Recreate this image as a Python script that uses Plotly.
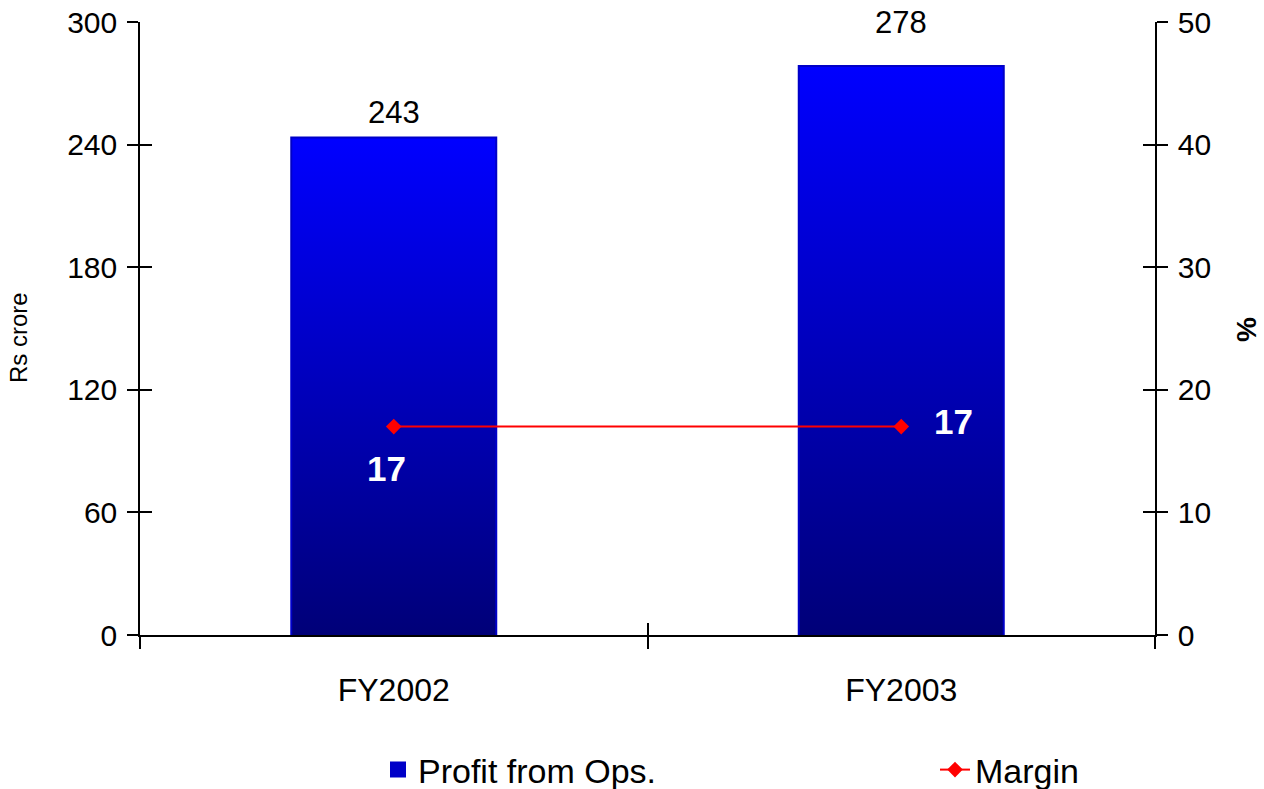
import plotly.graph_objects as go

categories = ["FY2002", "FY2003"]
profit = [243, 278]
margin = [17, 17]
left_ticks = [0, 60, 120, 180, 240, 300]
right_ticks = [0, 10, 20, 30, 40, 50]

FONT = "Liberation Sans, Arial, sans-serif"
BAR_W = 0.4
xs = list(range(len(categories)))

fig = go.Figure()

# base bars (data + legend entry)
fig.add_trace(go.Bar(
    x=xs, y=profit, width=BAR_W, name="Profit from Ops.", legend="legend",
    marker=dict(color="#0000c8", line=dict(color="#0000c8", width=4)),
    hoverinfo="skip",
))

# gradient overlay on the bars
for x, v in zip(xs, profit):
    fig.add_trace(go.Scatter(
        x=[x - BAR_W / 2, x + BAR_W / 2, x + BAR_W / 2, x - BAR_W / 2, x - BAR_W / 2],
        y=[0, 0, v, v, 0],
        mode="lines", line=dict(width=0, color="#0000ff"),
        fill="toself",
        fillgradient=dict(type="vertical", colorscale=[[0, "#000078"], [1, "#0000ff"]],
                          start=0, stop=v),
        showlegend=False, hoverinfo="skip",
    ))

# bar value labels
label_shift = [26, 44]
for x, v, s in zip(xs, profit, label_shift):
    fig.add_annotation(x=x, y=v, text=str(v), showarrow=False, yanchor="middle", yshift=s,
                       font=dict(size=31, color="black", family=FONT))

# margin line
fig.add_trace(go.Scatter(
    x=xs, y=margin, yaxis="y2", mode="lines+markers", name="Margin", legend="legend2",
    line=dict(color="#ff0000", width=2),
    marker=dict(symbol="diamond", size=12, color="#ff0000"),
))

# margin labels
shifts = [dict(xshift=-7, yshift=-42), dict(xshift=52, yshift=5)]
for x, m, s in zip(xs, margin, shifts):
    fig.add_annotation(x=x, y=m, yref="y2", text=str(m), showarrow=False,
                       font=dict(size=35, color="white", family=FONT, weight="bold"),
                       **s)

# invisible helpers so the overlay tick axes get drawn
for xa, ya in [("x2", "y"), ("x3", "y"), ("x", "y3"), ("x", "y4")]:
    fig.add_trace(go.Scatter(x=[None], y=[None], xaxis=xa, yaxis=ya, mode="markers",
                             showlegend=False, hoverinfo="skip"))

tick_style = dict(tickcolor="black", tickwidth=1.5)
label_font = dict(size=30, color="black", family=FONT)
overlay_common = dict(showticklabels=False, showline=False, showgrid=False,
                      zeroline=False, **tick_style)
legend_common = dict(orientation="h", xanchor="left", y=(635 - 770) / 613, yanchor="middle",
                     font=dict(size=34, color="black", family=FONT),
                     bgcolor="rgba(0,0,0,0)")

fig.update_layout(
    width=1264, height=789,
    paper_bgcolor="white", plot_bgcolor="white",
    margin=dict(l=140, r=109, t=22, b=154, autoexpand=False),
    showlegend=True,
    legend=dict(x=(378 - 140) / 1015, **legend_common),
    legend2=dict(x=(935 - 140) / 1015, **legend_common),
    xaxis=dict(range=[-0.5, 1.5], tickvals=xs, ticktext=categories, ticks="",
               showline=True, linecolor="black", linewidth=1.5, showgrid=False,
               zeroline=False, ticklabelstandoff=26,
               tickfont=dict(size=32, color="black", family=FONT)),
    xaxis2=dict(range=[-0.5, 1.5], overlaying="x", anchor="y", side="bottom",
                tickvals=[-0.5, 0.5, 1.5], ticks="outside", ticklen=13, **overlay_common),
    xaxis3=dict(range=[-0.5, 1.5], overlaying="x", anchor="y", side="bottom",
                tickvals=[-0.5, 0.5, 1.5], ticks="inside", ticklen=12, **overlay_common),
    yaxis=dict(range=[0, 300], tickvals=left_ticks, ticks="outside", ticklen=11,
               showline=True, linecolor="black", linewidth=1.5, showgrid=False,
               zeroline=False, tickfont=label_font, ticklabelstandoff=4, **tick_style),
    yaxis2=dict(range=[0, 50], tickvals=right_ticks, overlaying="y", side="right",
                anchor="x", ticks="outside", ticklen=11, showline=True, linecolor="black",
                linewidth=1.5, showgrid=False, zeroline=False, tickfont=label_font,
                ticklabelstandoff=4, **tick_style),
    yaxis3=dict(range=[0, 300], tickvals=left_ticks, overlaying="y", side="left",
                anchor="x", ticks="inside", ticklen=12, **overlay_common),
    yaxis4=dict(range=[0, 50], tickvals=right_ticks, overlaying="y", side="right",
                anchor="x", ticks="inside", ticklen=12, **overlay_common),
)

fig.add_annotation(x=(18 - 140) / 1015, xref="paper", xanchor="center",
                   y=(635 - 338) / 613, yref="paper", yanchor="middle",
                   text="Rs crore", textangle=-90, showarrow=False,
                   font=dict(size=24, color="black", family=FONT))
fig.add_annotation(x=(1246 - 140) / 1015, xref="paper", xanchor="center",
                   y=(635 - 330) / 613, yref="paper", yanchor="middle",
                   text="%", textangle=-90, showarrow=False,
                   font=dict(size=28, color="black", family=FONT, weight="bold"))

fig.write_html("out.html", config={"displayModeBar": False},
               post_script="document.body.style.margin='0';")
